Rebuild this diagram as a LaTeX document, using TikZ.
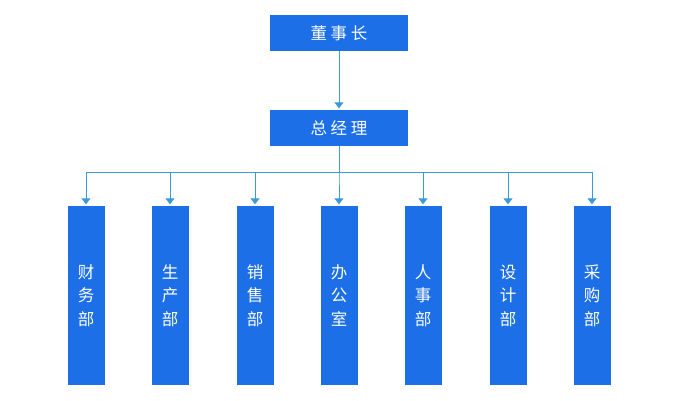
\documentclass[tikz,border=0pt]{standalone}
\usepackage{fontspec}
\newfontfamily\cjk{Noto Sans CJK SC}
\usepackage{tikz}
\usetikzlibrary{arrows.meta,calc,positioning}

\definecolor{boxblue}{HTML}{1C6FE6}
\definecolor{lineblue}{HTML}{3A9AD9}

\begin{document}
\begin{tikzpicture}[x=1pt, y=-1pt,
    every node/.style={rectangle, fill=boxblue, text=white, inner sep=0pt,
      font=\cjk\fontsize{16.5}{23.5}\selectfont},
    head/.style={minimum width=138pt, minimum height=36pt},
    dept/.style={minimum width=37pt, minimum height=179pt, align=center},
    link/.style={draw=lineblue, line width=1pt, -{Triangle[width=9pt,length=6pt]}, shorten >=1.5pt}]
    \useasboundingbox (0,0) rectangle (678,400);

    \node[head] (chairman) at (339,33) {董 事 长};
    \node[head] (manager) at (339,128) {总 经 理};
    \draw[link] (chairman) -- (manager);

    \foreach \name/\x/\label in {finance/86/财\\务\\部, production/170/生\\产\\部,
        sales/255/销\\售\\部, office/339/办\\公\\室, personnel/423/人\\事\\部,
        design/508/设\\计\\部, purchase/592/采\\购\\部} {
      \node[dept] (\name) at (\x,295.5) {\label};
      \draw[link] (manager.south) -- ++(0,26) -| (\name.north);
    }

\end{tikzpicture}
\end{document}
